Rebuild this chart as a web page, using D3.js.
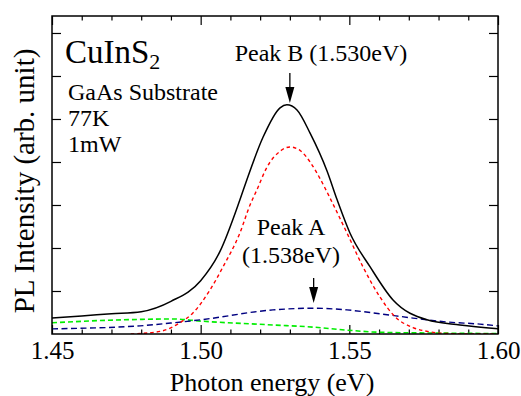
<!DOCTYPE html>
<html>
<head>
<meta charset="utf-8">
<script src="https://cdn.jsdelivr.net/npm/d3@7"></script>
<style>
  body { margin: 0; background: #fff; }
  svg text { font-family: "Liberation Serif", "Times New Roman", serif; fill: #000; }
  .axis path { display: none; }
  .axis line { stroke: #000; stroke-width: 1.2; }
</style>
</head>
<body>
<script>
const width = 521,
    height = 396;

const xLeft = 52, xRight = 498, yTop = 16, yBottom = 334;

// photon energy (eV) / intensity (arb.)
const totalE = [1.450, 1.460, 1.470, 1.480, 1.490, 1.500, 1.5065, 1.5132, 1.5156, 1.521, 1.5267, 1.529,
    1.5324, 1.5368, 1.5425, 1.5459, 1.5502, 1.557, 1.5647, 1.5761, 1.5872, 1.600];
const totalV = [0.37, 0.42, 0.47, 0.52, 0.76, 1.24, 1.92, 3.12, 3.6, 4.58, 5.26, 5.33,
    5.21, 4.67, 3.79, 3.12, 2.35, 1.56, 0.79, 0.33, 0.21, 0.12];

const peakBE = [1.4765, 1.4863, 1.4930, 1.4974, 1.5031, 1.5075, 1.5132, 1.5166, 1.5189, 1.5223, 1.5267, 1.5300,
    1.5334, 1.5368, 1.5401, 1.5438, 1.5492, 1.5546, 1.5603, 1.5654, 1.5714, 1.5771, 1.5822, 1.590, 1.600];
const peakBV = [0.0, 0.06, 0.26, 0.49, 1.02, 1.56, 2.35, 3.0, 3.35, 3.88, 4.25, 4.35,
    4.27, 4.0, 3.62, 3.12, 2.35, 1.56, 0.86, 0.40, 0.15, 0.05, 0.015, 0.0, 0.0];

const peakAE = [1.450, 1.4796, 1.4907, 1.500, 1.5243, 1.5378, 1.5492, 1.5603, 1.5714, 1.5828, 1.5939, 1.600];
const peakAV = [0.12, 0.19, 0.26, 0.33, 0.56, 0.60, 0.56, 0.47, 0.37, 0.28, 0.23, 0.19];

const bgE = [1.450, 1.465, 1.480, 1.4907, 1.500, 1.5243, 1.5378, 1.5492, 1.5603, 1.5828, 1.600];
const bgV = [0.26, 0.31, 0.34, 0.35, 0.30, 0.21, 0.16, 0.09, 0.04, 0.02, 0.01];

const xMajor = [1.45, 1.50, 1.55, 1.60];
const xMinor = d3.range(1.46, 1.60, 0.01).filter(v => Math.abs(v * 20 - Math.round(v * 20)) > 0.01);
const yTicks = [1, 2, 3, 4, 5, 6, 7];

const x = d3.scaleLinear().domain([1.45, 1.60]).range([xLeft, xRight]);
const y = d3.scaleLinear().domain([0, 7.395]).range([yBottom, yTop]);

const svg = d3.select('body').append('svg')
    .attr('width', width)
    .attr('height', height);

// ticks, all pointing inward
svg.append('g').attr('class', 'axis')
    .attr('transform', 'translate(0,' + yBottom + ')')
    .call(d3.axisBottom(x).tickValues(xMinor).tickSize(-4.5).tickFormat(''));
svg.append('g').attr('class', 'axis')
    .attr('transform', 'translate(0,' + yBottom + ')')
    .call(d3.axisBottom(x).tickValues(xMajor).tickSize(-9).tickPadding(7).tickFormat(d3.format('.2f')))
    .selectAll('text').style('font-size', '25px');
svg.append('g').attr('class', 'axis')
    .attr('transform', 'translate(0,' + yTop + ')')
    .call(d3.axisTop(x).tickValues(xMinor).tickSize(-4.5).tickFormat(''));
svg.append('g').attr('class', 'axis')
    .attr('transform', 'translate(0,' + yTop + ')')
    .call(d3.axisTop(x).tickValues(xMajor).tickSize(-9).tickFormat(''));
svg.append('g').attr('class', 'axis')
    .attr('transform', 'translate(' + xLeft + ',0)')
    .call(d3.axisLeft(y).tickValues(yTicks).tickSize(-9).tickFormat(''));
svg.append('g').attr('class', 'axis')
    .attr('transform', 'translate(' + xRight + ',0)')
    .call(d3.axisRight(y).tickValues(yTicks).tickSize(-9).tickFormat(''));

const line = d3.line()
    .x(d => x(d[0]))
    .y(d => y(d[1]))
    .curve(d3.curveMonotoneX);

const series = [
    {e: bgE, v: bgV, color: '#00ee00', dash: '5,3', w: 1.6},
    {e: peakAE, v: peakAV, color: '#000080', dash: '6,3.5', w: 1.4},
    {e: peakBE, v: peakBV, color: '#ff0000', dash: '3.5,3', w: 1.4},
    {e: totalE, v: totalV, color: '#000', dash: null, w: 1.5}
];

svg.append('defs').append('clipPath').attr('id', 'plot')
    .append('rect').attr('x', xLeft).attr('y', yTop)
    .attr('width', xRight - xLeft).attr('height', yBottom - yTop);

svg.append('g').attr('clip-path', 'url(#plot)')
    .selectAll('path')
    .data(series)
    .enter()
    .append('path')
    .attr('d', s => line(s.e.map((e, i) => [e, s.v[i]])))
    .attr('fill', 'none')
    .attr('stroke', s => s.color)
    .attr('stroke-width', s => s.w)
    .attr('stroke-dasharray', s => s.dash);

// frame
svg.append('rect')
    .attr('x', xLeft).attr('y', yTop)
    .attr('width', xRight - xLeft).attr('height', yBottom - yTop)
    .attr('fill', 'none').attr('stroke', '#000').attr('stroke-width', 1.5);

// axis titles
svg.append('text')
    .attr('x', (xLeft + xRight) / 2 - 3).attr('y', 391)
    .attr('text-anchor', 'middle')
    .style('font-size', '26px')
    .text('Photon energy (eV)');
svg.append('text')
    .attr('transform', 'translate(34,' + 181 + ') rotate(-90)')
    .attr('text-anchor', 'middle')
    .style('font-size', '29px')
    .text('PL Intensity (arb. unit)');

// sample notes
const title = svg.append('text').attr('x', 65).attr('y', 63).style('font-size', '33px');
title.append('tspan').text('CuInS');
title.append('tspan').attr('dy', 6).style('font-size', '22px').text('2');

const notes = ['GaAs Substrate', '77K', '1mW'];
svg.selectAll('text.note')
    .data(notes)
    .enter()
    .append('text')
    .attr('class', 'note')
    .attr('x', 68)
    .attr('y', (d, i) => 100 + i * 26)
    .style('font-size', '24px')
    .text(d => d);

// peak labels and arrows
function arrow(e, y0, y1) {
    const px = x(e);
    svg.append('line')
        .attr('x1', px).attr('x2', px)
        .attr('y1', y0).attr('y2', y1 - 14)
        .attr('stroke', '#000').attr('stroke-width', 1.3);
    svg.append('path')
        .attr('d', 'M' + (px - 4.5) + ',' + (y1 - 16) + 'L' + (px + 4.5) + ',' + (y1 - 16) + 'L' + px + ',' + y1 + 'Z')
        .attr('fill', '#000');
}

svg.append('text').attr('x', 321).attr('y', 61).attr('text-anchor', 'middle')
    .style('font-size', '24px').text('Peak B (1.530eV)');
arrow(1.530, 73, 103);

svg.append('text').attr('x', 291).attr('y', 235).attr('text-anchor', 'middle')
    .style('font-size', '24px').text('Peak A');
svg.append('text').attr('x', 291).attr('y', 263).attr('text-anchor', 'middle')
    .style('font-size', '24px').text('(1.538eV)');
arrow(1.538, 278, 303);
</script>
</body>
</html>
